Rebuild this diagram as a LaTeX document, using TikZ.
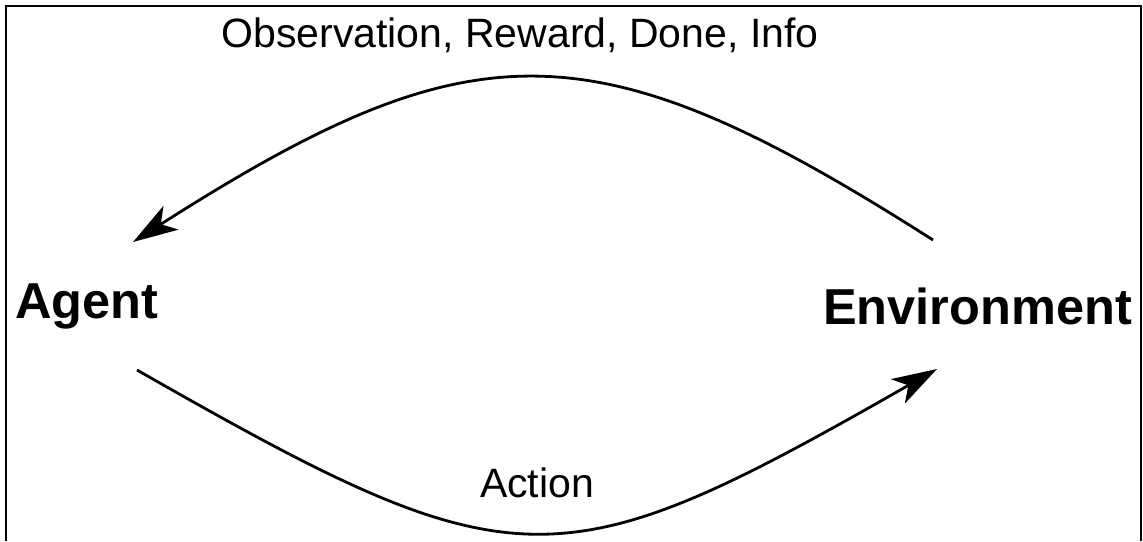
\documentclass[tikz,border=0pt]{standalone}
\usepackage{fontspec}
\setmainfont{Liberation Sans}
\usetikzlibrary{arrows.meta}

\begin{document}
\begin{tikzpicture}[
  x=1pt, y=-1pt,
  lbl/.style={inner sep=0pt, anchor=base, font=\fontsize{41}{49}\selectfont},
  actor/.style={inner sep=0pt, anchor=base, font=\fontsize{50.5}{60}\selectfont\bfseries},
  flow/.style={line width=2.8pt, -{Stealth[length=45pt, width=28pt, inset=12pt]}},
]
\useasboundingbox (0,0) rectangle (1143,541);

\draw [line width=2.8pt] (6,541) -- (6,6) -- (1141,6) -- (1141,541);

\node [actor, anchor=base west] (agent) at (15,318) {Agent};
\node [actor, anchor=base east] (env) at (1132,324) {Environment};
\node [lbl] (obs) at (520,47) {Observation, Reward, Done, Info};
\node [lbl] (act) at (537,497) {Action};

\coordinate (obsstart) at (933,240);
\coordinate (obsend) at (133,242);
\coordinate (actstart) at (137,370);
\coordinate (actend) at (937,369);

\draw [flow] (obsstart) .. controls +(-340,-217) and +(340,-217) .. (obsend);
\draw [flow] (actstart) .. controls +(380,217) and +(-380,217) .. (actend);
\end{tikzpicture}
\end{document}
